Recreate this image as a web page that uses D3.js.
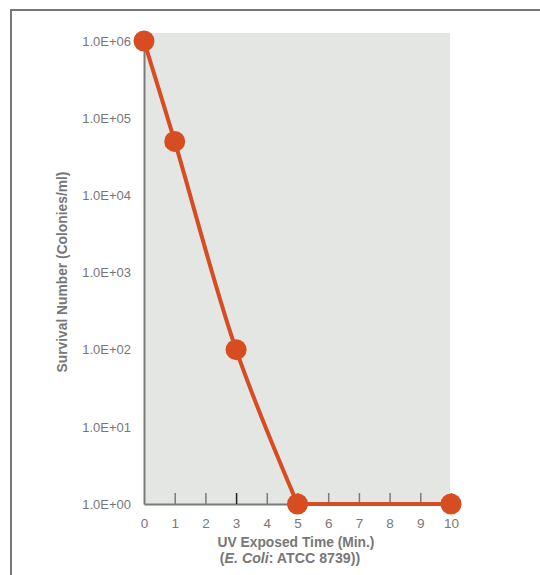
<!DOCTYPE html>
<html>
<head>
<meta charset="utf-8">
<script src="https://cdn.jsdelivr.net/npm/d3@7"></script>
<style>
  body { margin: 0; background: #fff; }
  text { font-family: "Liberation Sans", Arial, sans-serif; }
</style>
</head>
<body>
<script>
// data
const minutes = [0, 1, 3, 5, 10];
const survival = [1e6, 5e4, 100, 1, 1];
const yTicks = [1e0, 1e1, 1e2, 1e3, 1e4, 1e5, 1e6];
const yTickLabels = ["1.0E+00", "1.0E+01", "1.0E+02", "1.0E+03", "1.0E+04", "1.0E+05", "1.0E+06"];
const xTicks = [0, 1, 2, 3, 4, 5, 6, 7, 8, 9, 10];

const w = 540, h = 575;
const orange = "#d84c22";
const grey = "#7a7a7a";

const svg = d3.select("body").append("svg")
  .attr("width", w)
  .attr("height", h);

// frame
svg.append("line").attr("x1", 10).attr("x2", w).attr("y1", 10).attr("y2", 10)
  .attr("stroke", "#777").attr("stroke-width", 2);
svg.append("line").attr("x1", 11).attr("x2", 11).attr("y1", 10).attr("y2", h)
  .attr("stroke", "#777").attr("stroke-width", 2);

const x = d3.scaleLinear().domain([0, 10]).range([144, 451]);
const y = d3.scaleLog().domain([1, 1e6]).range([504, 41]);

// plot background
svg.append("rect")
  .attr("x", x(0))
  .attr("y", 33)
  .attr("width", 450 - x(0))
  .attr("height", y(1) - 33)
  .attr("fill", "#e4e6e4");

// x axis with inner ticks
const xAxis = svg.append("g")
  .attr("transform", "translate(0," + y(1) + ")")
  .call(d3.axisBottom(x).tickValues(xTicks).tickSizeInner(0).tickSizeOuter(0).tickPadding(14));
xAxis.select(".domain").attr("stroke", grey).attr("stroke-width", 2);
xAxis.selectAll(".tick text").attr("fill", "#777").attr("font-size", 13.5);
xAxis.selectAll(".tick").filter(d => d > 0).append("line")
  .attr("y1", 0).attr("y2", -11)
  .attr("stroke", d => d === 3 ? "#222" : grey)
  .attr("stroke-width", 1.5);

// y axis
const yAxis = svg.append("g")
  .attr("transform", "translate(" + x(0) + ",0)")
  .call(d3.axisLeft(y).tickValues(yTicks).tickSize(0).tickPadding(13)
    .tickFormat((d, i) => yTickLabels[i]));
yAxis.select(".domain").attr("stroke", grey).attr("stroke-width", 2);
yAxis.selectAll(".tick text").attr("fill", "#777").attr("font-size", 13);

// line + points
const pts = minutes.map((m, i) => [m, survival[i]]);
const line = d3.line().x(d => x(d[0])).y(d => y(d[1]));
svg.append("path")
  .datum(pts.slice(0, 4))
  .attr("fill", "none")
  .attr("stroke", orange)
  .attr("stroke-width", 4)
  .attr("d", line.curve(d3.curveCatmullRom.alpha(0.5)));
svg.append("path")
  .datum(pts.slice(3))
  .attr("fill", "none")
  .attr("stroke", orange)
  .attr("stroke-width", 4)
  .attr("d", line.curve(d3.curveLinear));

svg.selectAll("circle")
  .data(pts)
  .enter()
  .append("circle")
  .attr("cx", d => x(d[0]))
  .attr("cy", d => y(d[1]))
  .attr("r", 10.5)
  .attr("fill", orange);

// axis titles
svg.append("text")
  .attr("x", 296).attr("y", 547)
  .attr("text-anchor", "middle")
  .attr("font-size", 13.8).attr("font-weight", "bold").attr("fill", "#777")
  .text("UV Exposed Time (Min.)");

const sub = svg.append("text")
  .attr("x", 290).attr("y", 563)
  .attr("text-anchor", "middle")
  .attr("font-size", 14.2).attr("font-weight", "bold").attr("fill", "#777");
sub.append("tspan").text("(");
sub.append("tspan").attr("font-style", "italic").text("E. Coli");
sub.append("tspan").text(": ATCC 8739))");

svg.append("text")
  .attr("transform", "translate(67,272) rotate(-90)")
  .attr("text-anchor", "middle")
  .attr("font-size", 13.8).attr("font-weight", "bold").attr("fill", "#777")
  .text("Survival Number (Colonies/ml)");
</script>
</body>
</html>
